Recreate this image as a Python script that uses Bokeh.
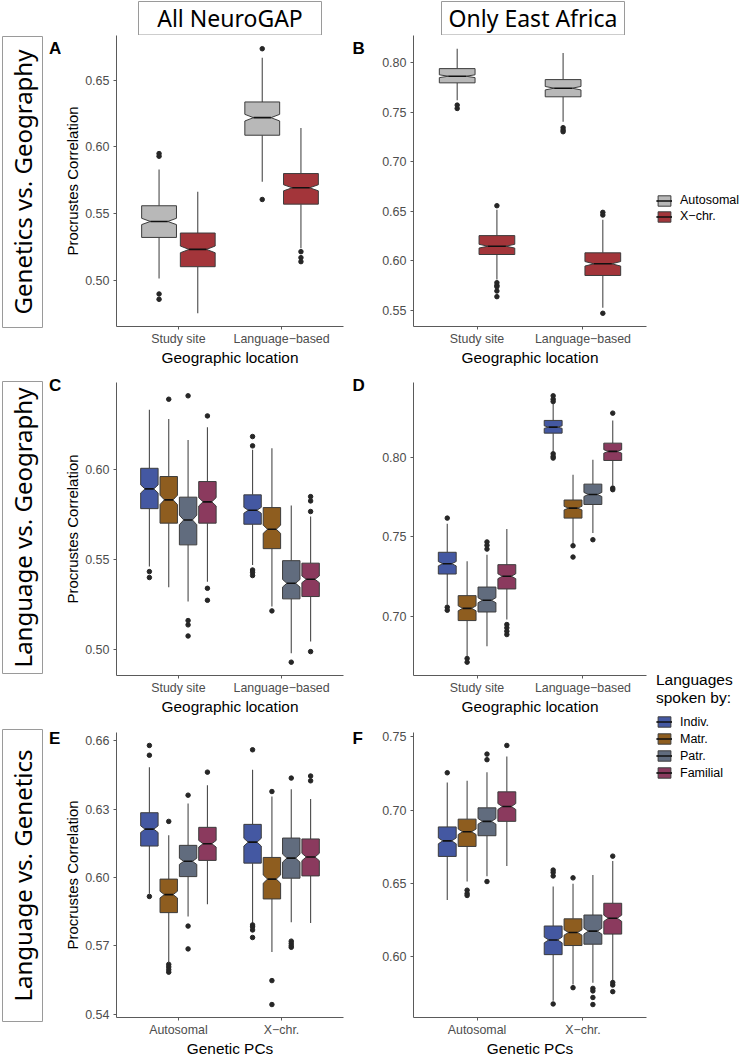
import math
from bokeh.plotting import figure
from bokeh.models import (Range1d, FixedTicker, PrintfTickFormatter, Legend,
                          LegendItem, ColumnDataSource)
from bokeh.layouts import row, column
from bokeh.embed import file_html
from bokeh.resources import INLINE
from bokeh.core.properties import value

# ---------------- data ----------------
GEO_CATS = ["Study site", "Language\u2212based"]
PC_CATS = ["Autosomal", "X\u2212chr."]
GENOME_GROUPS = ["Autosomal", "X\u2212chr."]
LANG_GROUPS = ["Indiv.", "Matr.", "Patr.", "Familial"]
GENOME_COLORS = ["#B8B8B8", "#A3353A"]
LANG_COLORS = ["#4458A2", "#8E5D1F", "#616C7E", "#8B3A5E"]
N_REPS = 250  # replicates behind each box (used for notch size)

# order: category 1 (groups...), category 2 (groups...)
A_WLO = [0.5012, 0.475, 0.5738, 0.5238]
A_Q1 = [0.532, 0.510, 0.6088, 0.557]
A_MED = [0.544, 0.523, 0.622, 0.5693]
A_Q3 = [0.5558, 0.5353, 0.6338, 0.580]
A_WHI = [0.583, 0.5663, 0.667, 0.6143]
A_OUT = [[0.595, 0.593, 0.4895, 0.4855], [], [0.6738, 0.5605], [0.5213, 0.5168, 0.5138]]

B_WLO = [0.7624, 0.5812, 0.7406, 0.5527]
B_Q1 = [0.7799, 0.6064, 0.7658, 0.5852]
B_MED = [0.7866, 0.6148, 0.7745, 0.597]
B_Q3 = [0.7943, 0.6255, 0.7832, 0.6081]
B_WHI = [0.8144, 0.6517, 0.8101, 0.6416]
B_OUT = [[0.7574, 0.754], [0.6557, 0.5779, 0.5752, 0.5738, 0.5695, 0.5638],
         [0.7346, 0.7322, 0.7305], [0.649, 0.6463, 0.547]]

C_WLO = [0.5461, 0.5346, 0.5266, 0.5377, 0.547, 0.5238, 0.4978, 0.5043]
C_Q1 = [0.5784, 0.5703, 0.5582, 0.5703, 0.5697, 0.5561, 0.5281, 0.5294]
C_MED = [0.5894, 0.5833, 0.5721, 0.5822, 0.5775, 0.5669, 0.5368, 0.539]
C_Q3 = [0.6009, 0.5963, 0.5848, 0.5935, 0.5861, 0.579, 0.5494, 0.548]
C_WHI = [0.6335, 0.6284, 0.6167, 0.6238, 0.6112, 0.6121, 0.5801, 0.574]
C_OUT = [[0.5433, 0.54], [0.6394], [0.6413, 0.516, 0.5136, 0.5074], [0.6301, 0.534, 0.5273],
         [0.6186, 0.6134, 0.5442, 0.5429, 0.5411], [0.5214], [0.4928],
         [0.5851, 0.5827, 0.5768, 0.4987]]

D_WLO = [0.7073, 0.6748, 0.6811, 0.6979, 0.8038, 0.7457, 0.7524, 0.7824]
D_Q1 = [0.7266, 0.6973, 0.7027, 0.7172, 0.8153, 0.7618, 0.7704, 0.7981]
D_MED = [0.7331, 0.705, 0.7101, 0.7252, 0.8191, 0.7681, 0.7767, 0.8038]
D_Q3 = [0.7403, 0.713, 0.7184, 0.7325, 0.8233, 0.7732, 0.7832, 0.809]
D_WHI = [0.7583, 0.7346, 0.7388, 0.7549, 0.8338, 0.7891, 0.7985, 0.8233]
D_OUT = [[0.7618, 0.7057, 0.7038], [0.6734, 0.6711], [0.7468, 0.7447, 0.7423],
         [0.6948, 0.6927, 0.6906, 0.6885], [0.8388, 0.8367, 0.8352, 0.8023, 0.8006, 0.7996],
         [0.7444, 0.7373], [0.7482], [0.8279, 0.7807, 0.7797]]

E_WLO = [0.5929, 0.563, 0.5829, 0.5883, 0.5801, 0.5673, 0.5804, 0.5801]
E_Q1 = [0.6138, 0.5846, 0.6004, 0.6075, 0.6063, 0.5906, 0.5997, 0.6007]
E_MED = [0.6212, 0.5925, 0.6071, 0.6148, 0.6155, 0.5993, 0.6085, 0.609]
E_Q3 = [0.6284, 0.5993, 0.6141, 0.622, 0.6233, 0.6088, 0.6173, 0.6169]
E_WHI = [0.6483, 0.6185, 0.6324, 0.6404, 0.6473, 0.6355, 0.6387, 0.6344]
E_OUT = [[0.6579, 0.6536, 0.5917], [0.6246, 0.5619, 0.5608, 0.5596, 0.5585],
         [0.6361, 0.5787, 0.5687], [0.6462], [0.656, 0.5792, 0.5784, 0.577, 0.5737],
         [0.6377, 0.5548, 0.5443], [0.6436, 0.5721, 0.5711, 0.5701, 0.5694], [0.6445, 0.6424]]

F_WLO = [0.6387, 0.6513, 0.6549, 0.6619, 0.5701, 0.5812, 0.5823, 0.5834]
F_Q1 = [0.6684, 0.6752, 0.6825, 0.6923, 0.6015, 0.6077, 0.6086, 0.6155]
F_MED = [0.679, 0.6852, 0.6923, 0.7024, 0.6115, 0.6166, 0.6175, 0.6263]
F_Q3 = [0.6885, 0.6938, 0.7015, 0.7124, 0.621, 0.6259, 0.6285, 0.6365]
F_WHI = [0.7188, 0.7199, 0.7257, 0.7365, 0.648, 0.6498, 0.6558, 0.6653]
F_OUT = [[0.7254], [0.6454, 0.6431, 0.6418], [0.7381, 0.7343, 0.6513], [0.744],
         [0.6591, 0.6575, 0.6551, 0.5679], [0.6538, 0.579], [0.5785, 0.5768, 0.5723, 0.5675],
         [0.6686, 0.5825, 0.5808, 0.5763]]

A_TICKS = [0.50, 0.55, 0.60, 0.65]
B_TICKS = [0.55, 0.60, 0.65, 0.70, 0.75, 0.80]
C_TICKS = [0.50, 0.55, 0.60]
D_TICKS = [0.70, 0.75, 0.80]
E_TICKS = [0.54, 0.57, 0.60, 0.63, 0.66]
F_TICKS = [0.60, 0.65, 0.70, 0.75]

COL_TITLES = ["All NeuroGAP", "Only East Africa"]
ROW_TITLES = ["Genetics vs. Geography", "Language vs. Geography", "Language vs. Genetics"]
LEFT_LETTERS = ["A", "C", "E"]
RIGHT_LETTERS = ["B", "D", "F"]

# ---------------- styling / layout (pixels) ----------------
SANS = "Liberation Sans"
TITLE_FONT = "Noto Sans"
AXIS_COL = "#5A5A5A"
BOX_LINE = "#3C3C3C"
FRAME_COL = "#9A9A9A"

TOTAL_W, TOTAL_H = 741, 1059
STRIP_H = 35
ROW_H = [333, 349, 342]
ROW_BT = [0, 14, 15]
ROW_BB = [41, 41, 41]
COL0_W = 61
LEFT_W, LEFT_BL, LEFT_BR = 284, 50, 2
SPACER_W = 25
RIGHT_W, RIGHT_BL, RIGHT_BR = 280, 43, 4
LEG_W = TOTAL_W - COL0_W - LEFT_W - SPACER_W - RIGHT_W
MID_W = LEFT_W + SPACER_W + RIGHT_W

ROWLAB_BOX = [(36, 327), (381, 673), (729, 1021)]   # top/bottom of row-label boxes
ROWLAB_X = (2, 42)
LETTER_BASE = [48, 385, 738]                          # letter baselines (page y)
LETTER_X_LEFT = 48.5
LETTER_X_RIGHT = 7                                    # inside spacer
TITLE_BOX_X = [(77, 260), (380, 563)]                 # inside strip
TITLE_BOX_Y = (1, 34.5)


def make_panel(cats, groups, colors, wlo, q1, med, q3, whi, outs, yticks,
               xlabel, ylabel, r, left):
    width = LEFT_W if left else RIGHT_W
    bl = LEFT_BL if left else RIGHT_BL
    br = LEFT_BR if left else RIGHT_BR
    height, bt, bb = ROW_H[r], ROW_BT[r], ROW_BB[r]
    ng = len(groups)
    vals = list(wlo) + list(whi) + [v for o in outs for v in o]
    lo, hi = min(vals), max(vals)
    pad = 0.05 * (hi - lo)
    p = figure(width=width, height=height,
               x_range=Range1d(0.4, len(cats) + 0.6),
               y_range=Range1d(lo - pad, hi + pad),
               output_backend="svg", toolbar_location=None,
               min_border_left=bl, min_border_right=br,
               min_border_top=bt, min_border_bottom=bb)
    p.grid.visible = False
    p.outline_line_color = None

    slot = 0.75 / ng
    half = 0.9 * slot / 2
    bx, by, bf = [], [], []
    wx0, wy0, wx1, wy1 = [], [], [], []
    mx0, mx1, my = [], [], []
    ox, oy = [], []
    for ci in range(len(cats)):
        for gi in range(ng):
            k = ci * ng + gi
            xc = ci + 1 + (gi - (ng - 1) / 2) * slot
            x0, x1 = xc - half, xc + half
            nh = 1.58 * (q3[k] - q1[k]) / math.sqrt(N_REPS)
            nlo, nhi = med[k] - nh, med[k] + nh
            ind = 0.25 * (x1 - x0)
            bx.append([x0, x0, x0 + ind, x0, x0, x1, x1, x1 - ind, x1, x1])
            by.append([q1[k], nlo, med[k], nhi, q3[k], q3[k], nhi, med[k], nlo, q1[k]])
            bf.append(colors[gi])
            wx0 += [xc, xc]
            wx1 += [xc, xc]
            wy0 += [q3[k], q1[k]]
            wy1 += [whi[k], wlo[k]]
            mx0.append(x0 + ind)
            mx1.append(x1 - ind)
            my.append(med[k])
            for v in outs[k]:
                ox.append(xc)
                oy.append(v)

    p.segment(x0=wx0, y0=wy0, x1=wx1, y1=wy1, line_color="#4A4A4A", line_width=1.1)
    p.patches(xs="xs", ys="ys", fill_color="fill",
              source=ColumnDataSource(dict(xs=bx, ys=by, fill=bf)),
              line_color=BOX_LINE, line_width=1)
    p.segment(x0=mx0, y0=my, x1=mx1, y1=my, line_color="#111111", line_width=1.6)
    p.scatter(ox, oy, size=4.5, color="#262626")

    xa = p.xaxis[0]
    xa.ticker = FixedTicker(ticks=list(range(1, len(cats) + 1)))
    xa.major_label_overrides = {i + 1: c for i, c in enumerate(cats)}
    xa.major_label_text_font_size = "12.4px"
    xa.major_label_standoff = 2
    xa.axis_label = xlabel
    xa.axis_label_text_font_size = "15.4px"
    xa.axis_label_standoff = 0
    ya = p.yaxis[0]
    ya.ticker = FixedTicker(ticks=yticks)
    ya.formatter = PrintfTickFormatter(format="%.2f")
    ya.major_label_text_font_size = "12.5px"
    ya.major_label_standoff = 4
    if ylabel:
        ya.axis_label = ylabel
        ya.axis_label_text_font_size = "15px"
        ya.axis_label_standoff = 1
    for ax in (xa, ya):
        ax.axis_line_color = AXIS_COL
        ax.major_tick_line_color = AXIS_COL
        ax.major_tick_out = 3
        ax.major_tick_in = 0
        ax.minor_tick_line_color = None
        ax.major_label_text_color = "#4D4D4D"
        ax.major_label_text_font = SANS
        ax.axis_label_text_font = SANS
        ax.axis_label_text_font_style = "normal"
        ax.axis_label_text_color = "black"
        ax.major_label_text_line_height = 1.0
        ax.axis_label_text_line_height = 1.0
    return p


def deco_figure(w, h):
    p = figure(width=w, height=h, x_range=Range1d(0, w), y_range=Range1d(h, 0),
               output_backend="svg", toolbar_location=None,
               x_axis_location=None, y_axis_location=None, min_border=0)
    p.grid.visible = False
    p.outline_line_color = None
    return p


pA = make_panel(GEO_CATS, GENOME_GROUPS, GENOME_COLORS, A_WLO, A_Q1, A_MED, A_Q3, A_WHI, A_OUT,
                A_TICKS, "Geographic location", "Procrustes Correlation", 0, True)
pB = make_panel(GEO_CATS, GENOME_GROUPS, GENOME_COLORS, B_WLO, B_Q1, B_MED, B_Q3, B_WHI, B_OUT,
                B_TICKS, "Geographic location", None, 0, False)
pC = make_panel(GEO_CATS, LANG_GROUPS, LANG_COLORS, C_WLO, C_Q1, C_MED, C_Q3, C_WHI, C_OUT,
                C_TICKS, "Geographic location", "Procrustes Correlation", 1, True)
pD = make_panel(GEO_CATS, LANG_GROUPS, LANG_COLORS, D_WLO, D_Q1, D_MED, D_Q3, D_WHI, D_OUT,
                D_TICKS, "Geographic location", None, 1, False)
pE = make_panel(PC_CATS, LANG_GROUPS, LANG_COLORS, E_WLO, E_Q1, E_MED, E_Q3, E_WHI, E_OUT,
                E_TICKS, "Genetic PCs", "Procrustes Correlation", 2, True)
pF = make_panel(PC_CATS, LANG_GROUPS, LANG_COLORS, F_WLO, F_Q1, F_MED, F_Q3, F_WHI, F_OUT,
                F_TICKS, "Genetic PCs", None, 2, False)

# ---- left column: row-label boxes + letters A, C, E ----
col0 = deco_figure(COL0_W, TOTAL_H)
col0.quad(left=[ROWLAB_X[0]] * 3, right=[ROWLAB_X[1]] * 3,
          top=[b[0] for b in ROWLAB_BOX], bottom=[b[1] for b in ROWLAB_BOX],
          fill_color="white", line_color=FRAME_COL, line_width=1)
col0.text(x=[(ROWLAB_X[0] + ROWLAB_X[1]) / 2] * 3, y=[(b[0] + b[1]) / 2 for b in ROWLAB_BOX],
          text=ROW_TITLES, angle=math.pi / 2, text_align="center", text_baseline="middle",
          text_font=value(TITLE_FONT), text_font_size="24px", text_color="black")
col0.text(x=[LETTER_X_LEFT] * 3, y=LETTER_BASE, text=LEFT_LETTERS, text_align="left",
          text_baseline="alphabetic", text_font=value(SANS), text_font_style="bold",
          text_font_size="17px", text_color="black")

# ---- spacer between columns: letters B, D, F ----
spacer = deco_figure(SPACER_W, TOTAL_H - STRIP_H)
spacer.text(x=[LETTER_X_RIGHT] * 3, y=[b - STRIP_H for b in LETTER_BASE], text=RIGHT_LETTERS,
            text_align="left", text_baseline="alphabetic", text_font=value(SANS),
            text_font_style="bold", text_font_size="17px", text_color="black")

# ---- column titles strip ----
strip = deco_figure(MID_W, STRIP_H)
strip.quad(left=[t[0] for t in TITLE_BOX_X], right=[t[1] for t in TITLE_BOX_X],
           top=[TITLE_BOX_Y[0]] * 2, bottom=[TITLE_BOX_Y[1]] * 2,
           fill_color="white", line_color=FRAME_COL, line_width=1)
strip.text(x=[(t[0] + t[1]) / 2 for t in TITLE_BOX_X], y=[sum(TITLE_BOX_Y) / 2] * 2,
           text=COL_TITLES, text_align="center", text_baseline="middle",
           text_font=value(TITLE_FONT), text_font_size="23px", text_color="black")

# ---- legends ----
lf = figure(width=LEG_W, height=TOTAL_H, x_range=Range1d(0, 1), y_range=Range1d(0, 1),
            output_backend="svg", toolbar_location=None,
            x_axis_location=None, y_axis_location=None, min_border=0)
lf.grid.visible = False
lf.outline_line_color = None
# legend key renderers (their single point lies outside the visible range)
whisk_r = lf.vspan(x=[5], line_color="#4A4A4A", line_width=1.1)
med_r = lf.segment(x0=[5], y0=[5], x1=[6], y1=[5], line_color="#111111", line_width=1.5)


def legend_items(groups, colors):
    items = []
    for g, c in zip(groups, colors):
        q = lf.quad(left=[5], right=[6], top=[6], bottom=[5], fill_color=c, line_color=BOX_LINE)
        items.append(LegendItem(label=g, renderers=[whisk_r, q, med_r]))
    return items


common = dict(glyph_width=16, glyph_height=13, spacing=0, padding=0, margin=0,
              border_line_color=None, background_fill_alpha=0, label_standoff=8,
              label_text_font=SANS, label_text_font_size="12.5px", label_text_color="black")
leg1 = Legend(items=legend_items(GENOME_GROUPS, GENOME_COLORS), location=(6, TOTAL_H - 224),
              label_height=16, **common)
leg2 = Legend(items=legend_items(LANG_GROUPS, LANG_COLORS), location=(6, TOTAL_H - 781),
              label_height=17, title="Languages\nspoken by:", title_text_font=SANS,
              title_text_font_size="15.5px", title_text_font_style="normal",
              title_text_color="black", title_standoff=6, **common)
lf.add_layout(leg1)
lf.add_layout(leg2)

left_col = column(pA, pC, pE)
right_col = column(pB, pD, pF)
mid = column(strip, row(left_col, spacer, right_col))
layout = row(col0, mid, lf)

open("out.html", "w").write(file_html(layout, INLINE))
